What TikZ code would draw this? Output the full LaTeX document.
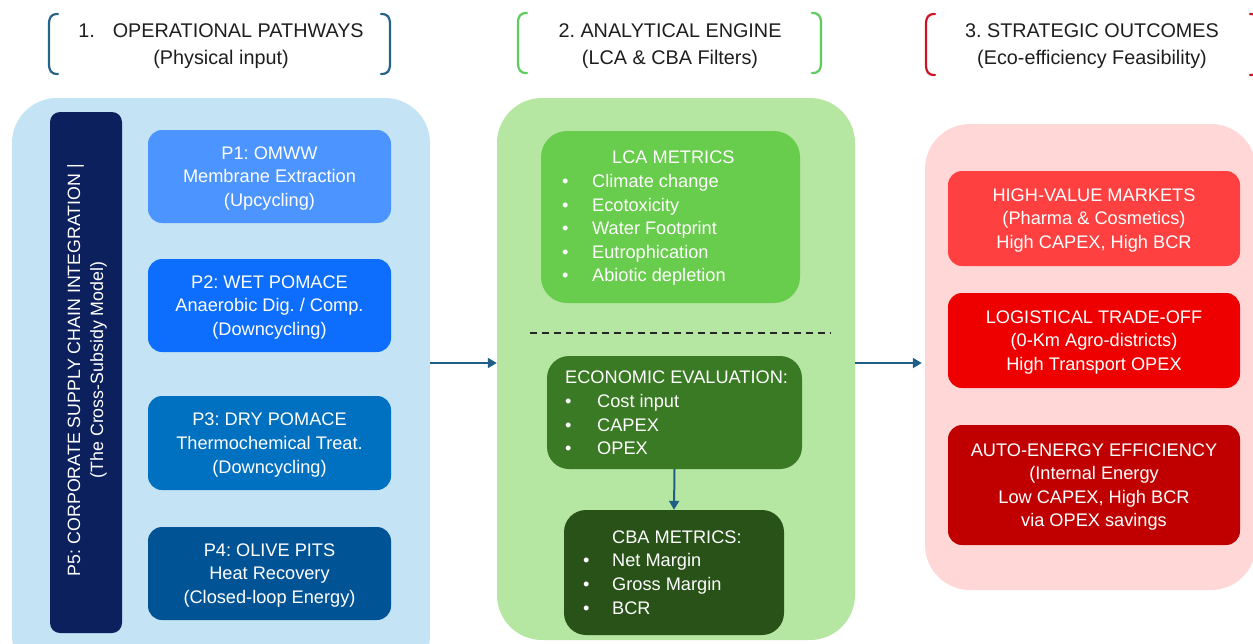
\documentclass[tikz,border=0pt]{standalone}
\usepackage{fontspec}
\setmainfont{Liberation Sans}
\usetikzlibrary{arrows.meta}
\frenchspacing

% panel and box colours
\definecolor{lpanel}{RGB}{196,228,245}
\definecolor{mpanel}{RGB}{181,230,162}
\definecolor{rpanel}{RGB}{255,215,215}
\definecolor{navybar}{RGB}{12,32,94}
\definecolor{pone}{RGB}{76,148,255}
\definecolor{ptwo}{RGB}{13,110,253}
\definecolor{pthree}{RGB}{0,112,192}
\definecolor{pfour}{RGB}{0,84,150}
\definecolor{lcagreen}{RGB}{104,204,76}
\definecolor{ecogreen}{RGB}{58,122,36}
\definecolor{cbagreen}{RGB}{40,82,24}
\definecolor{hvred}{RGB}{255,64,64}
\definecolor{logred}{RGB}{238,0,0}
\definecolor{autored}{RGB}{192,0,0}
\definecolor{arrowc}{RGB}{31,95,135}
\definecolor{brone}{RGB}{36,100,135}
\definecolor{brtwo}{RGB}{92,204,92}
\definecolor{brthree}{RGB}{204,20,36}
\definecolor{headtxt}{RGB}{30,30,30}

\newcommand\bxfont{\fontsize{18.2}{23.6}\selectfont}
\newcommand\hdfont{\fontsize{19.8}{27}\selectfont}
\newcommand\vtfont{\fontsize{17.8}{23}\selectfont}
\newcommand\bul[1]{\makebox[#1][l]{•}}

\begin{document}
\begin{tikzpicture}[x=1pt,y=-1pt,
  panel/.style={rectangle, rounded corners=45pt, inner sep=0pt, draw=none},
  pbox/.style={rectangle, rounded corners=14pt, inner sep=0pt, minimum width=243pt},
  rbox/.style={rectangle, rounded corners=14pt, inner sep=0pt, minimum width=292pt},
  boxtxt/.style={inner sep=0pt, text=white, align=center, font=\bxfont, yshift=-2pt},
  gbox/.style={rectangle, rounded corners=22pt, inner sep=0pt},
  listtxt/.style={inner sep=0pt, text=white, align=left, font=\bxfont, anchor=west},
  head/.style={inner sep=0pt, align=center, font=\hdfont, text=headtxt},
  bracket/.style={line width=2.2pt, line cap=round},
  flow/.style={draw=arrowc, line width=2pt, -{Triangle[length=9pt,width=10pt]}}]

\useasboundingbox (0,0) rectangle (1253,643);
\clip (0,0) rectangle (1253,643);

% ---- column headers with round brackets ----
\node[head] (h1) at (221,46.5) {1.\hspace{18pt}OPERATIONAL PATHWAYS\\(Physical input)};
\node[head] (h2) at (670,46.5) {2. ANALYTICAL ENGINE\\(LCA \& CBA Filters)};
\node[head] (h3) at (1092,46.5) {3. STRATEGIC OUTCOMES\\(Eco-efficiency Feasibility)};

\draw[bracket, brone] (58,14) .. controls (51,14) and (49,17) .. (49,25) -- (49,63) .. controls (49,71) and (51,74) .. (58,74);
\draw[bracket, brone] (381,14) .. controls (388,14) and (390,17) .. (390,25) -- (390,63) .. controls (390,71) and (388,74) .. (381,74);
\draw[bracket, brtwo] (527,13) .. controls (520,13) and (518,16) .. (518,24) -- (518,62) .. controls (518,70) and (520,73) .. (527,73);
\draw[bracket, brtwo] (812,13) .. controls (819,13) and (821,16) .. (821,24) -- (821,62) .. controls (821,70) and (819,73) .. (812,73);
\draw[bracket, brthree] (935,14) .. controls (928,14) and (926,17) .. (926,25) -- (926,64) .. controls (926,72) and (928,75) .. (935,75);
\draw[bracket, brthree] (1250,14) .. controls (1257,14) and (1259,17) .. (1259,25) -- (1259,64) .. controls (1259,72) and (1257,75) .. (1250,75);

% ---- background panels ----
\node[panel, fill=lpanel, minimum width=418pt, minimum height=582pt] (lp) at (221,389) {};
\node[panel, fill=mpanel, minimum width=358pt, minimum height=542pt] (mp) at (676,369) {};
\node[panel, fill=rpanel, minimum width=331pt, minimum height=466pt] (rp) at (1090.5,357) {};

% ---- column 1: operational pathways ----
\node[rectangle, rounded corners=10pt, fill=navybar, minimum width=72pt, minimum height=521pt] (p5) at (86,372.5) {};
\node[inner sep=0pt, rotate=90, align=center, font=\vtfont, text=white] (p5t) at (87,370)
  {P5: CORPORATE SUPPLY CHAIN INTEGRATION |\\(The Cross-Subsidy Model)};

\node[pbox, fill=pone, minimum height=93pt] (p1) at (269.5,176.5) {};
\node[boxtxt] (p1t) at (p1.center) {P1: OMWW\\Membrane Extraction\\(Upcycling)};
\node[pbox, fill=ptwo, minimum height=93pt] (p2) at (269.5,305.5) {};
\node[boxtxt] (p2t) at (p2.center) {P2: WET POMACE\\Anaerobic Dig. / Comp.\\(Downcycling)};
\node[pbox, fill=pthree, minimum height=94pt] (p3) at (269.5,443) {};
\node[boxtxt] (p3t) at (p3.center) {P3: DRY POMACE\\Thermochemical Treat.\\(Downcycling)};
\node[pbox, fill=pfour, minimum height=93pt] (p4) at (269.5,573.5) {};
\node[boxtxt] (p4t) at (p4.center) {P4: OLIVE PITS\\Heat Recovery\\(Closed-loop Energy)};

% ---- column 2: analytical engine ----
\node[gbox, fill=lcagreen, minimum width=259pt, minimum height=172pt, rounded corners=26pt] (lca) at (670.5,217) {};
\node[listtxt] (lcat) at (562,218.5)
  {\hspace*{50pt}LCA METRICS\\
   \bul{30pt}Climate change\\
   \bul{30pt}Ecotoxicity\\
   \bul{30pt}Water Footprint\\
   \bul{30pt}Eutrophication\\
   \bul{30pt}Abiotic depletion};

\coordinate (dashL) at (530,333);
\coordinate (dashR) at (831,333);
\draw[line width=2pt, black!85, dash pattern=on 7pt off 5pt] (dashL) -- (dashR);

\node[gbox, fill=ecogreen, minimum width=255pt, minimum height=113pt] (eco) at (674.5,412.5) {};
\node[listtxt] (ecot) at (565,413)
  {ECONOMIC EVALUATION:\\
   \bul{32pt}Cost input\\
   \bul{32pt}CAPEX\\
   \bul{32pt}OPEX};

\node[gbox, fill=cbagreen, minimum width=220pt, minimum height=125pt] (cba) at (674,572.5) {};
\node[listtxt] (cbat) at (583,572.5)
  {\hspace*{29pt}CBA METRICS:\\
   \bul{29pt}Net Margin\\
   \bul{29pt}Gross Margin\\
   \bul{29pt}BCR};

% ---- column 3: strategic outcomes ----
\node[rbox, fill=hvred, minimum height=95pt] (hv) at (1094,218.5) {};
\node[boxtxt] (hvt) at (hv.center) {HIGH-VALUE MARKETS\\(Pharma \& Cosmetics)\\High CAPEX, High BCR};
\node[rbox, fill=logred, minimum height=95pt] (lg) at (1094,340.5) {};
\node[boxtxt] (lgt) at (lg.center) {LOGISTICAL TRADE-OFF\\(0-Km Agro-districts)\\High Transport OPEX};
\node[rbox, fill=autored, minimum height=120pt] (ae) at (1094,485) {};
\node[boxtxt] (aet) at (ae.center) {AUTO-ENERGY EFFICIENCY\\(Internal Energy\\Low CAPEX, High BCR\\via OPEX savings};

% ---- connectors ----
\coordinate (flowline) at (0,363);
\draw[flow] (lp.east |- flowline) -- (mp.west |- flowline);
\draw[flow] (mp.east |- flowline) -- ([xshift=-3pt]rp.west |- flowline);
\draw[flow] (eco.south) -- (cba.north);

\end{tikzpicture}
\end{document}
